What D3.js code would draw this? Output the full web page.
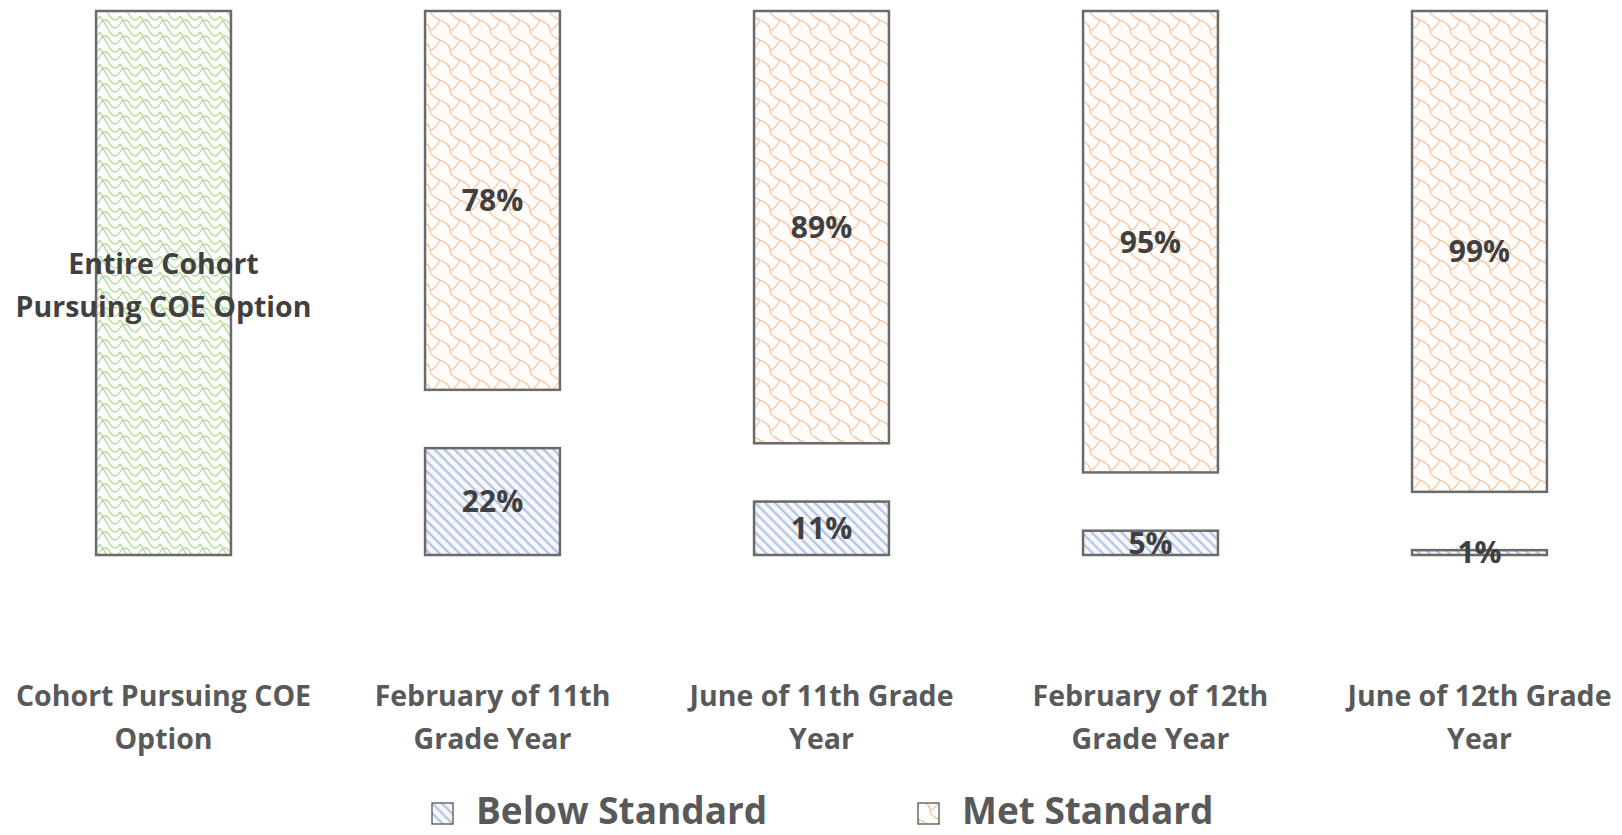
<!DOCTYPE html>
<html>
<head>
<meta charset="utf-8">
<script src="https://cdn.jsdelivr.net/npm/d3@7"></script>
<style>
  html, body { margin: 0; padding: 0; background: #fff; }
  svg { display: block; font-family: "Open Sans", Lato, sans-serif; }
</style>
</head>
<body>
<div class="chart"></div>
<script>
const WIDTH = 1622;
const HEIGHT = 835;

// data
var categories = ["Cohort Pursuing COE Option", "February of 11th Grade Year",
    "June of 11th Grade Year", "February of 12th Grade Year", "June of 12th Grade Year"];
var tickLines = [["Cohort Pursuing COE", "Option"], ["February of 11th", "Grade Year"],
    ["June of 11th Grade", "Year"], ["February of 12th", "Grade Year"], ["June of 12th Grade", "Year"]];
var cohort = [112, 0, 0, 0, 0];
var below = [0, 22, 11, 5, 1];
var spacer = [0, 12, 12, 12, 12];
var met = [0, 78, 89, 95, 99];
var cohortLabel = ["Entire Cohort", "Pursuing COE Option"];
var legendNames = ["Below Standard", "Met Standard"];

var rows = categories.map(function (c, i) {
    return { cat: c, cohort: cohort[i], below: below[i], spacer: spacer[i], met: met[i] };
});

var svg = d3.select('.chart').append('svg')
    .attr('width', WIDTH)
    .attr('height', HEIGHT);

var defs = svg.append('defs');

// green shingle pattern
var pg = defs.append('pattern').attr('id', 'pGreen')
    .attr('patternUnits', 'userSpaceOnUse').attr('width', 20).attr('height', 16);
pg.append('rect').attr('width', 20).attr('height', 16).attr('fill', '#fdfefc');
pg.append('path')
    .attr('d', 'M0,8 Q5,0 10,8 Q15,16 20,8 M10,0 Q15,8 20,0 M0,0 Q5,8 10,16')
    .attr('fill', 'none').attr('stroke', '#b2d99a').attr('stroke-width', 1.3);

// orange trellis pattern
var po = defs.append('pattern').attr('id', 'pOrange')
    .attr('patternUnits', 'userSpaceOnUse').attr('width', 20).attr('height', 20);
po.append('rect').attr('width', 20).attr('height', 20).attr('fill', '#fffcf9');
po.append('path')
    .attr('d', 'M0,0 Q10,4 10,10 Q10,16 20,20 M20,0 Q15,10 10,10')
    .attr('fill', 'none').attr('stroke', '#f6c29c').attr('stroke-width', 1.2);

// blue wide downward diagonal
var pb = defs.append('pattern').attr('id', 'pBlue')
    .attr('patternUnits', 'userSpaceOnUse').attr('width', 7).attr('height', 7)
    .attr('patternTransform', 'rotate(45)');
pb.append('rect').attr('width', 7).attr('height', 7).attr('fill', '#f5f7fb');
pb.append('line').attr('x1', 0).attr('y1', 3.5).attr('x2', 7).attr('y2', 3.5)
    .attr('stroke', '#a5b8da').attr('stroke-width', 1.8);

var fills = { cohort: 'url(#pGreen)', below: 'url(#pBlue)', met: 'url(#pOrange)' };

var x = d3.scaleBand()
    .domain(categories)
    .range([0, 1643])
    .paddingInner(0.59)
    .paddingOuter(0.292);

var y = d3.scaleLinear()
    .domain([0, 112])
    .range([555, 11]);

var stack = d3.stack().keys(["cohort", "below", "spacer", "met"]);
var series = stack(rows);

var g = svg.append('g');

series.forEach(function (s) {
    if (s.key === 'spacer') return;
    g.append('g').selectAll('rect')
        .data(s.filter(function (d) { return d[1] - d[0] > 0; }))
        .enter()
        .append('rect')
        .attr('x', function (d) { return x(d.data.cat); })
        .attr('width', x.bandwidth())
        .attr('y', function (d) { return y(d[1]); })
        .attr('height', function (d) { return y(d[0]) - y(d[1]); })
        .attr('fill', fills[s.key])
        .attr('stroke', '#6a6a6a')
        .attr('stroke-width', 2.5);
});

// data labels
series.forEach(function (s) {
    if (s.key === 'spacer' || s.key === 'cohort') return;
    g.append('g').selectAll('text')
        .data(s.filter(function (d) { return d[1] - d[0] > 0; }))
        .enter()
        .append('text')
        .attr('x', function (d) { return x(d.data.cat) + x.bandwidth() / 2; })
        .attr('y', function (d) { return (y(d[0]) + y(d[1])) / 2; })
        .attr('dy', '0.36em')
        .attr('text-anchor', 'middle')
        .attr('font-size', 30)
        .attr('font-weight', 'bold')
        .attr('fill', '#404040')
        .text(function (d) { return (d[1] - d[0]) + '%'; });
});

// label inside the cohort bar
var cx = x(categories[0]) + x.bandwidth() / 2;
var cy = (y(0) + y(cohort[0])) / 2;
g.append('text')
    .attr('x', cx).attr('y', cy)
    .attr('text-anchor', 'middle')
    .attr('font-size', 28.5)
    .attr('font-weight', 'bold')
    .attr('fill', '#404040')
    .selectAll('tspan')
    .data(cohortLabel)
    .enter()
    .append('tspan')
    .attr('x', cx)
    .attr('dy', function (d, i) { return i === 0 ? '-0.32em' : '1.5em'; })
    .text(function (d) { return d; });

// category labels
var xAxis = svg.append('g');
categories.forEach(function (c, i) {
    var t = xAxis.append('text')
        .attr('x', x(c) + x.bandwidth() / 2)
        .attr('y', 706)
        .attr('text-anchor', 'middle')
        .attr('font-size', 28.5)
        .attr('font-weight', 'bold')
        .attr('fill', '#595959');
    tickLines[i].forEach(function (line, j) {
        t.append('tspan')
            .attr('x', x(c) + x.bandwidth() / 2)
            .attr('dy', j === 0 ? 0 : 43)
            .text(line);
    });
});

// legend
var legend = svg.append('g');
var legendX = [432, 918];
var legendFill = [fills.below, fills.met];
legendNames.forEach(function (name, i) {
    legend.append('rect')
        .attr('x', legendX[i]).attr('y', 803)
        .attr('width', 21).attr('height', 21)
        .attr('fill', legendFill[i])
        .attr('stroke', '#6a6a6a').attr('stroke-width', 1.5);
    legend.append('text')
        .attr('x', legendX[i] + 44).attr('y', 824)
        .attr('font-size', 37)
        .attr('font-weight', 'bold')
        .attr('fill', '#595959')
        .text(name);
});
</script>
</body>
</html>
